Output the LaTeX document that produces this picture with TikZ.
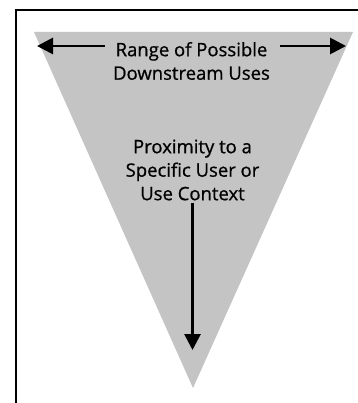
\documentclass[tikz,border=0pt]{standalone}
\usepackage{fontspec}
\setmainfont{Open Sans}[FakeBold=0.8]
\usetikzlibrary{arrows.meta}
\tikzset{
  lbl/.style={font=\fontsize{18.5}{23.5}\selectfont, align=center, inner sep=0pt, text=black},
  arr/.style={line width=2.8pt, -{Triangle[length=16pt,width=16pt]}},
}
\begin{document}
\begin{tikzpicture}[x=1pt,y=-1pt]
\useasboundingbox (0,0) rectangle (357,403);
\fill[fill=white] (0,0) rectangle (357,403);
% frame (only top and left visible)
\draw[line width=2pt] (16,404) -- (16,10.5) -- (358,10.5);
% funnel triangle
\fill[fill={rgb,255:red,196;green,196;blue,196}] (34,32) coordinate (tl) -- (353,32) coordinate (tr) -- (193,388) coordinate (apex) -- cycle;
% top label
\node[lbl] (range) at (191.5,61) {Range of Possible\\Downstream Uses};
\coordinate (lt) at (37,46);
\coordinate (rt) at (346,46);
\draw[arr] (105,46) coordinate (ls) -- (lt);
\draw[arr] (280,46) coordinate (rs) -- (rt);
% middle label
\node[lbl] (prox) at (192.5,170) {Proximity to a\\Specific User or\\Use Context};
\coordinate (dt) at (192.5,350);
\draw[arr] (prox.south) ++(0,2) coordinate (ds) -- (dt);
\end{tikzpicture}
\end{document}
